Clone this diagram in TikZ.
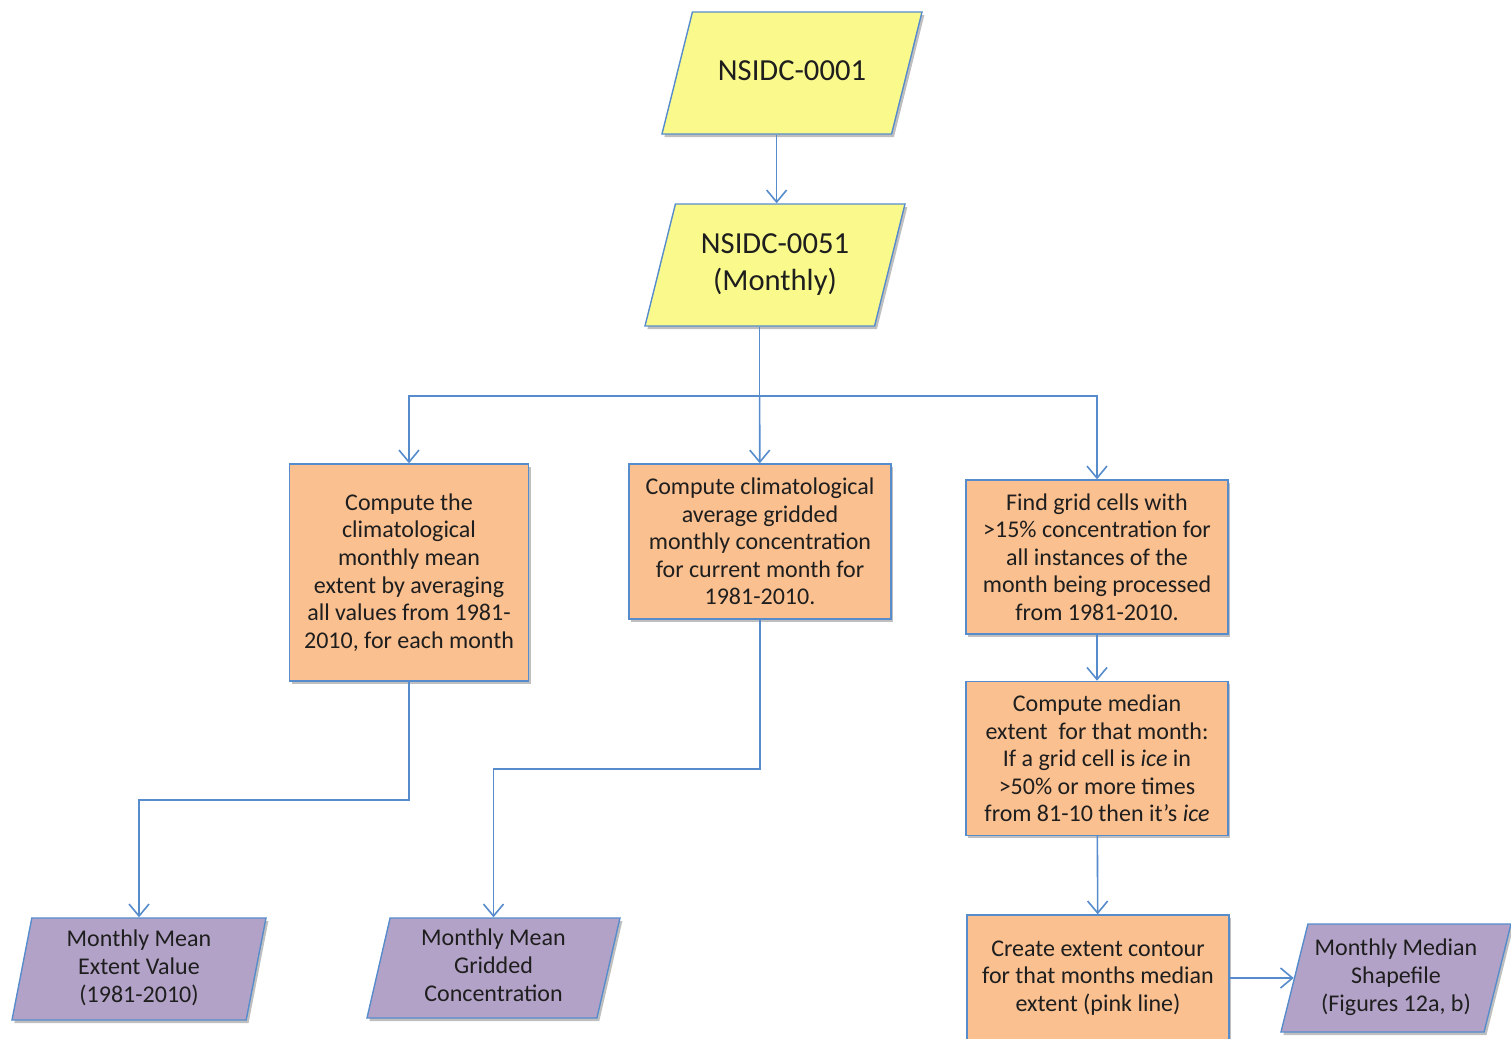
\documentclass[tikz,border=0pt]{standalone}
\usepackage{fontspec}
\setmainfont{Carlito}
\usepackage{xcolor}
\usepackage{tikz}
\usetikzlibrary{positioning, arrows.meta, shapes.geometric, shadows}

\definecolor{lineblue}{RGB}{86,140,204}
\definecolor{srcyellow}{RGB}{250,250,140}
\definecolor{procorange}{RGB}{250,192,144}
\definecolor{outpurple}{RGB}{179,162,199}
\definecolor{textgray}{RGB}{30,30,30}

% text of a data node, set in a box of fixed height
\newcommand{\datatext}[2]{\vbox to #1{\vfil\hbox{\begin{tabular}{@{}c@{}}#2\end{tabular}}\vfil}}

\begin{document}
\begin{tikzpicture}[
    x=0.5pt, y=-0.5pt,
    box/.style={draw=lineblue, line width=0.7pt, align=center, text=textgray, inner sep=2pt,
        font=\fontsize{12}{13.8}\selectfont,
        drop shadow={shadow xshift=1.2pt, shadow yshift=-1.5pt, fill=black, opacity=0.25}},
    proc/.style={box, rectangle, fill=procorange},
    data/.style={box, trapezium, trapezium stretches body, inner sep=0pt,
        trapezium left angle=77, trapezium right angle=103},
    src/.style={data, fill=srcyellow, minimum width=130pt,
        trapezium left angle=76, trapezium right angle=104, font=\fontsize{15.3}{18.5}\selectfont},
    result/.style={data, fill=outpurple},
    line/.style={draw=lineblue, line width=0.8pt},
    arrow/.style={line, -{Straight Barb[length=6pt, width=10pt]}}
]
\clip (0,0) rectangle (1511,1039);

\node[src] (nsidc1) at (792,73) {\datatext{61pt}{NSIDC-0001}};
\node[src] (nsidc51) at (775,265) {\datatext{61pt}{NSIDC-0051\\(Monthly)}};

\node[proc, minimum width=119.5pt, minimum height=108.5pt] (meanext) at (409,572.5)
    {Compute the\\climatological\\monthly mean\\extent by averaging\\all values from 1981-\\2010, for each month};
\node[proc, minimum width=131pt, minimum height=77.5pt] (meanconc) at (760,541.5)
    {Compute climatological\\average gridded\\monthly concentration\\for current month for\\1981-2010.};
\node[proc, minimum width=131pt, minimum height=77pt] (gridcells) at (1097,557)
    {Find grid cells with\\>15\% concentration for\\all instances of the\\month being processed\\from 1981-2010.};
\node[proc, minimum width=131pt, minimum height=77pt, below=23pt of gridcells] (median)
    {Compute median\\extent \ for that month:\\If a grid cell is \textit{ice} in\\>50\% or more times\\from 81-10 then it’s \textit{ice}};
\node[proc, minimum width=131pt, minimum height=63pt] (contour) at (1098,978)
    {Create extent contour\\for that months median\\extent (pink line)};

\node[result, minimum width=127pt, trapezium left angle=79, trapezium right angle=101] (outext) at (139,969)
    {\datatext{51pt}{Monthly Mean\\Extent Value\\(1981-2010)}};
\node[result, minimum width=126.5pt] (outconc) at (493.5,968)
    {\datatext{50pt}{Monthly Mean\\Gridded\\Concentration}};
\node[result, minimum width=115pt, trapezium left angle=76, trapezium right angle=104] (outshape) at (1396,978)
    {\datatext{54pt}{Monthly Median\\Shapefile\\(Figures 12a, b)}};

\coordinate (split) at (nsidc51.bottom side |- 0,396);

\draw[arrow] (nsidc1.bottom side) -- (nsidc1.bottom side |- nsidc51.north);
\draw[line] (nsidc51.bottom side) -- (split);
\draw[arrow] (split) -| (meanext);
\draw[arrow] (split) -- (meanconc);
\draw[arrow] (split) -| (gridcells);
\draw[arrow] (gridcells) -- (median);
\draw[arrow] (median) -- (contour);
\draw[arrow] (contour) -- (outshape);

\draw[arrow] (meanext.south) -- ++(0,118) -| (outext.north);
\draw[arrow] (meanconc.south) -- ++(0,149) -| (outconc.north);
\end{tikzpicture}
\end{document}
